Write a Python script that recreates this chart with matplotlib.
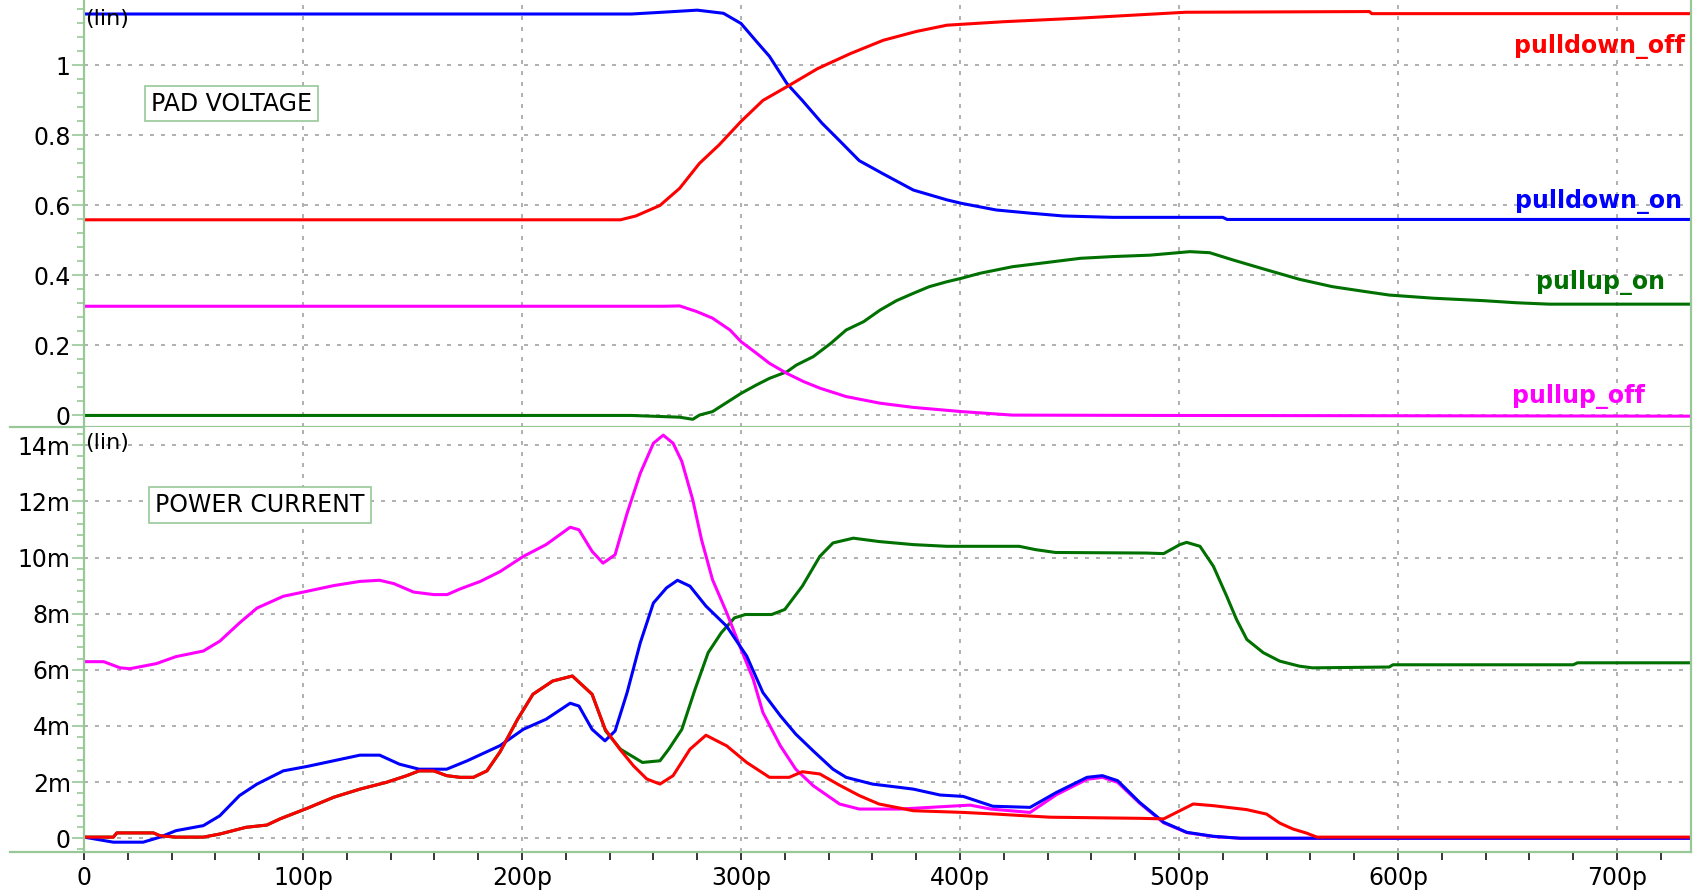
import matplotlib
matplotlib.use("Agg")
import matplotlib.pyplot as plt
from matplotlib.lines import Line2D
from matplotlib.ticker import FuncFormatter, MultipleLocator

# -------------------------------------------------------------------------
# Data (time in ps, voltage in V, current in mA)
# -------------------------------------------------------------------------
# PAD VOLTAGE
t_pd_on_v = [0, 250, 264, 280, 292, 300, 307, 313, 321, 328, 337, 345, 354, 365,
             378.7, 394, 400.7, 416.6, 432, 447, 470, 500, 520, 522, 733]
pd_on_v = [1.147, 1.147, 1.152, 1.158, 1.149, 1.12, 1.069, 1.026, 0.948, 0.90,
           0.835, 0.785, 0.728, 0.69, 0.644, 0.616, 0.606, 0.587, 0.578, 0.57,
           0.566, 0.566, 0.566, 0.56, 0.56]

t_pd_off_v = [0, 245, 252, 263, 272, 281, 290, 300, 310, 322, 335, 350, 365, 380,
              394, 420, 454, 503, 587, 588, 733]
pd_off_v = [0.559, 0.559, 0.57, 0.60, 0.649, 0.72, 0.773, 0.84, 0.90, 0.943,
            0.991, 1.034, 1.072, 1.097, 1.115, 1.125, 1.135, 1.152, 1.154,
            1.148, 1.148]

t_pu_on_v = [0, 250, 272, 278, 281, 287, 293, 300, 307, 313, 321, 325.3, 333, 341,
             348, 356, 363.5, 371, 378.7, 386, 394, 400.7, 409, 424, 439.6, 455,
             470, 486.8, 505, 514, 524.8, 540, 555, 570, 585, 596, 616, 639, 654,
             669, 733]
pu_on_v = [0, 0, -0.005, -0.011, 0.001, 0.011, 0.035, 0.063, 0.087, 0.106, 0.125,
           0.144, 0.168, 0.206, 0.244, 0.268, 0.301, 0.328, 0.349, 0.368, 0.382,
           0.392, 0.406, 0.425, 0.437, 0.449, 0.454, 0.458, 0.468, 0.465, 0.444,
           0.416, 0.389, 0.368, 0.354, 0.344, 0.335, 0.328, 0.322, 0.318, 0.318]

t_pu_off_v = [0, 265, 272, 279.7, 287, 295, 300, 307, 313, 321, 328.5, 336, 348,
              363.5, 378.7, 400.7, 424, 493, 733]
pu_off_v = [0.312, 0.312, 0.313, 0.297, 0.278, 0.244, 0.211, 0.178, 0.149, 0.12,
            0.097, 0.078, 0.054, 0.035, 0.023, 0.011, 0.001, 0.0, -0.002]

# POWER CURRENT
t_pu_off_i = [0, 9, 16.5, 21, 33, 42, 54.5, 62, 71, 79, 91, 102, 114, 126, 135,
              141.5, 150.5, 159.7, 165.8, 171.7, 181, 190, 200.6, 211, 222, 226,
              232, 237, 242.5, 248, 254, 260, 264.5, 269, 273, 278, 282, 287,
              293.5, 299.5, 305.6, 310, 318, 325, 333, 345, 354, 372.6, 404.6,
              414, 432, 444, 458, 465, 472, 482, 493, 503.6, 515.7, 528, 564, 733]
pu_off_i = [6.29, 6.29, 6.07, 6.04, 6.22, 6.47, 6.67, 7.02, 7.67, 8.2, 8.62, 8.8,
            9.0, 9.15, 9.19, 9.07, 8.77, 8.68, 8.68, 8.88, 9.15, 9.5, 10.04,
            10.46, 11.08, 10.99, 10.22, 9.8, 10.1, 11.58, 13.0, 14.07, 14.36,
            14.07, 13.42, 12.05, 10.63, 9.21, 8.03, 6.84, 5.66, 4.48, 3.29, 2.46,
            1.87, 1.22, 1.04, 1.04, 1.18, 1.04, 0.92, 1.55, 2.1, 2.17, 1.99, 1.25,
            0.55, 0.2, 0.06, 0.0, 0.0, 0.0]

t_pd_on_i = [0, 13.4, 27, 34.7, 42, 54.5, 62, 71, 79, 91, 102, 114, 126, 135, 144,
             153, 165.6, 175, 190, 200.6, 211, 222, 226, 232, 237.9, 242.5, 248,
             254, 260, 266, 271, 276.7, 284, 293.5, 302.6, 310, 318, 325, 333, 342,
             348, 360, 372.6, 378.7, 390.9, 401.5, 415, 432, 444, 458, 465, 472,
             482, 493, 503.6, 515.7, 528, 733]
pd_on_i = [0.04, -0.14, -0.14, 0.04, 0.27, 0.45, 0.8, 1.52, 1.93, 2.4, 2.56, 2.76,
           2.96, 2.96, 2.64, 2.46, 2.46, 2.76, 3.3, 3.88, 4.24, 4.81, 4.71, 3.88,
           3.47, 3.82, 5.19, 6.96, 8.38, 8.92, 9.19, 8.98, 8.27, 7.55, 6.49, 5.19,
           4.36, 3.71, 3.11, 2.46, 2.17, 1.93, 1.81, 1.75, 1.54, 1.49, 1.14, 1.1,
           1.63, 2.17, 2.23, 2.05, 1.28, 0.57, 0.21, 0.07, 0.0, 0.0]

t_pd_off_i = [0, 13.4, 15, 31.7, 34.7, 42, 54.5, 62, 74, 83.5, 89.5, 102, 114, 126,
              138, 147.4, 153, 159.7, 165.6, 171.7, 177.8, 184, 190, 198, 205, 214,
              223, 232, 238, 244.7, 250.9, 257, 263, 269, 276.7, 284, 293.5, 302.6,
              313, 322, 328, 336, 345, 354, 363, 378.7, 401.5, 416.6, 441, 482, 493,
              506.5, 515.7, 530.9, 540, 546, 552, 558, 563, 733]
pd_off_i = [0.04, 0.04, 0.19, 0.19, 0.09, 0.04, 0.04, 0.15, 0.39, 0.47, 0.69, 1.07,
            1.46, 1.75, 1.99, 2.23, 2.4, 2.4, 2.23, 2.17, 2.17, 2.4, 3.08, 4.24,
            5.13, 5.6, 5.78, 5.13, 3.88, 3.17, 2.58, 2.11, 1.93, 2.23, 3.17, 3.67,
            3.29, 2.7, 2.17, 2.17, 2.37, 2.29, 1.89, 1.52, 1.22, 0.98, 0.92, 0.86,
            0.75, 0.71, 0.69, 1.22, 1.16, 1.02, 0.86, 0.54, 0.33, 0.19, 0.04, 0.04]

# pullup_on current runs underneath pulldown_off up to ~232p
t_pu_on_i = [0, 13.4, 15, 31.7, 34.7, 42, 54.5, 62, 74, 83.5, 89.5, 102, 114, 126,
             138, 147.4, 153, 159.7, 165.6, 171.7, 177.8, 184, 190, 198, 205, 214,
             223, 232, 238.2, 245, 255, 263, 267, 273, 279, 285, 291, 297, 302, 314,
             320, 328, 336, 342, 351.3, 363, 378.7, 394, 427, 434.6, 443.6, 485,
             493, 500.4, 503.5, 509.6, 515.7, 521.8, 526.3, 531, 538.5, 546, 555,
             561, 596, 597.7, 680, 682, 733]
pu_on_i = [0.04, 0.04, 0.19, 0.19, 0.09, 0.04, 0.04, 0.15, 0.39, 0.47, 0.69, 1.07,
           1.46, 1.75, 1.99, 2.23, 2.4, 2.4, 2.23, 2.17, 2.17, 2.4, 3.08, 4.24,
           5.13, 5.6, 5.78, 5.13, 3.82, 3.17, 2.7, 2.76, 3.17, 3.88, 5.3, 6.61,
           7.32, 7.85, 7.97, 7.97, 8.15, 8.98, 10.04, 10.52, 10.69, 10.57, 10.46,
           10.4, 10.4, 10.28, 10.18, 10.16, 10.14, 10.46, 10.54, 10.4, 9.69, 8.62,
           7.79, 7.08, 6.61, 6.31, 6.13, 6.07, 6.1, 6.18, 6.18, 6.25, 6.25]

x_major = [0, 100, 200, 300, 400, 500, 600, 700]
v_major = [0, 0.2, 0.4, 0.6, 0.8, 1.0]
i_major = [0, 2, 4, 6, 8, 10, 12, 14]

RED, BLUE, GREEN, MAGENTA = "#ff0000", "#0000ff", "#007000", "#ff00ff"
FRAME = "#98c898"
GRID = "#9a9a9a"

# -------------------------------------------------------------------------
# Layout
# -------------------------------------------------------------------------
W, H = 1693, 894
fig = plt.figure(figsize=(W / 100, H / 100), dpi=100)
left = 84 / W
width = (1691 - 84) / W
y_sep = 1 - 427 / H
y_bot = 1 - 852 / H

ax_v = fig.add_axes([left, y_sep, width, 1 - y_sep])
ax_i = fig.add_axes([left, y_bot, width, y_sep - y_bot])

for ax in (ax_v, ax_i):
    ax.set_xlim(0, 733.8)
    ax.set_xticks(x_major)
    ax.xaxis.set_minor_locator(MultipleLocator(20))
    ax.grid(True, which="major", color=GRID, linestyle=(0, (2.6, 4.6)),
            linewidth=1.1)
    ax.spines["top"].set_visible(False)
    for s in ("left", "right", "bottom"):
        ax.spines[s].set_color(FRAME)
        ax.spines[s].set_linewidth(1.6)
    ax.tick_params(axis="y", which="major", direction="out", length=8.5,
                   width=1.2, color=FRAME, labelcolor="black", labelsize=17, pad=1)
    ax.tick_params(axis="y", which="minor", direction="out", length=5,
                   width=1.2, color=FRAME)

# voltage panel
ax_v.set_ylim(-0.033, 1.187)
ax_v.set_yticks(v_major)
ax_v.yaxis.set_minor_locator(MultipleLocator(0.04))
ax_v.yaxis.set_major_formatter(FuncFormatter(lambda v, p: f"{v:g}"))
ax_v.tick_params(axis="x", which="both", bottom=False, labelbottom=False)

ax_v.plot(t_pu_on_v, pu_on_v, color=GREEN, lw=2.2)
ax_v.plot(t_pu_off_v, pu_off_v, color=MAGENTA, lw=2.2)
ax_v.plot(t_pd_on_v, pd_on_v, color=BLUE, lw=2.2)
ax_v.plot(t_pd_off_v, pd_off_v, color=RED, lw=2.2)

lbl = dict(ha="right", va="center", fontsize=17, fontweight="bold")
ax_v.text(731, 1.053, "pulldown_off", color=RED, **lbl)
ax_v.text(729.7, 0.61, "pulldown_on", color=BLUE, **lbl)
ax_v.text(722, 0.379, "pullup_on", color=GREEN, **lbl)
ax_v.text(712.8, 0.053, "pullup_off", color=MAGENTA, **lbl)

ax_v.text(0.001, 0.955, "(lin)", transform=ax_v.transAxes, ha="left",
          va="center", fontsize=16)
ax_v.text(0.0918, 0.7576, "PAD VOLTAGE", transform=ax_v.transAxes, ha="center",
          va="center", fontsize=17,
          bbox=dict(boxstyle="square,pad=0.25", fc="white", ec=FRAME, lw=1.2))

# current panel
ax_i.set_ylim(-0.49, 14.65)
ax_i.set_yticks(i_major)
ax_i.yaxis.set_minor_locator(MultipleLocator(0.4))
ax_i.yaxis.set_major_formatter(
    FuncFormatter(lambda v, p: "0" if v == 0 else f"{v:g}m"))
ax_i.xaxis.set_major_formatter(
    FuncFormatter(lambda v, p: "0" if v == 0 else f"{v:g}p"))
ax_i.tick_params(axis="x", which="both", direction="out", length=6, width=1.1,
                 color="black", labelsize=17, pad=4)

ax_i.plot(t_pu_on_i, pu_on_i, color=GREEN, lw=2.2)
ax_i.plot(t_pu_off_i, pu_off_i, color=MAGENTA, lw=2.2)
ax_i.plot(t_pd_on_i, pd_on_i, color=BLUE, lw=2.2)
ax_i.plot(t_pd_off_i, pd_off_i, color=RED, lw=2.2)

ax_i.text(0.001, 0.962, "(lin)", transform=ax_i.transAxes, ha="left",
          va="center", fontsize=16)
ax_i.text(0.1095, 0.8165, "POWER CURRENT", transform=ax_i.transAxes,
          ha="center", va="center", fontsize=17,
          bbox=dict(boxstyle="square,pad=0.25", fc="white", ec=FRAME, lw=1.2))

# frame lines extending left of the y axis
for y in (y_sep, y_bot):
    fig.add_artist(Line2D([10 / W, left], [y, y], color=FRAME, lw=1.6))

fig.savefig("out.png", dpi=100)
